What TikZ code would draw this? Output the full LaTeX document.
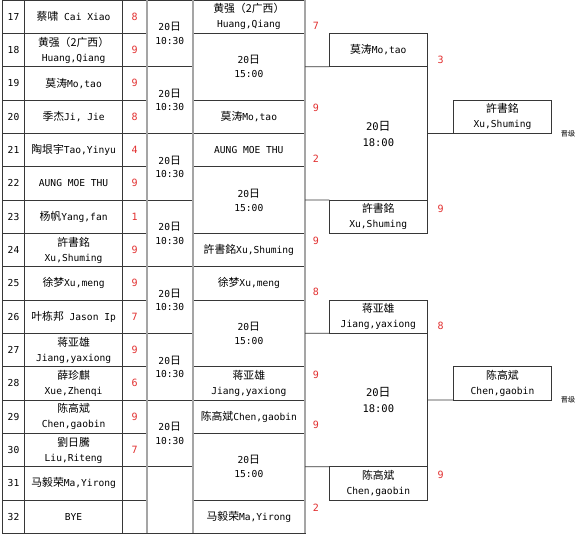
\documentclass[tikz,border=0pt]{standalone}
\usepackage{fontspec}
\setmainfont{DejaVu Sans Mono}
\newfontfamily\cjkf{Noto Sans CJK SC}[Scale=1.13]
\newcommand\zh[1]{{\cjkf #1}}
\usetikzlibrary{calc}
\definecolor{gridc}{RGB}{55,55,55}
\definecolor{thickc}{RGB}{165,165,165}
\definecolor{scorec}{RGB}{225,45,45}
\begin{document}
\begin{tikzpicture}[x=1pt,y=-1pt,
  every node/.style={font=\fontsize{9.6}{15}\selectfont, inner sep=0pt, outer sep=0pt, align=center},
  cell/.style={draw=gridc, line width=0.7pt, minimum height=33.333pt},
  numcell/.style={cell, minimum width=22pt},
  namecell/.style={cell, minimum width=98.2pt},
  scorecell/.style={cell, minimum width=24pt, text=scorec, font=\fontsize{10}{12}\selectfont},
  timecell/.style={cell, minimum width=46pt, minimum height=66.667pt, font=\fontsize{9.6}{13.5}\selectfont},
  rcell/.style={cell, minimum width=112.3pt},
  rtime/.style={cell, minimum width=112.3pt, minimum height=66.667pt, font=\fontsize{9.6}{14}\selectfont},
  box/.style={draw=gridc, line width=0.7pt, minimum width=98pt, minimum height=33.333pt},
  score/.style={text=scorec, font=\fontsize{10}{12}\selectfont},
  conn/.style={draw=gridc, line width=0.7pt},
  thickline/.style={draw=thickc, line width=1.8pt},
  bigtime/.style={font=\fontsize{10.5}{16}\selectfont},
  note/.style={font=\fontsize{6.3}{8}\selectfont}
]
\useasboundingbox (0,0) rectangle (580,538);

% left table: number, name, score
\foreach \i/\nm/\sc in {
  17/{\zh{蔡啸} Cai Xiao}/8,
  18/{\zh{黄强（2广西）}\\Huang,Qiang}/9,
  19/{\zh{莫涛}Mo,tao}/9,
  20/{\zh{季杰}Ji, Jie}/8,
  21/{\zh{陶垠宇}Tao,Yinyu}/4,
  22/{AUNG MOE THU}/9,
  23/{\zh{杨帆}Yang,fan}/1,
  24/{\zh{許書銘}\\Xu,Shuming}/9,
  25/{\zh{徐梦}Xu,meng}/9,
  26/{\zh{叶栋邦} Jason Ip}/7,
  27/{\zh{蒋亚雄}\\Jiang,yaxiong}/9,
  28/{\zh{薛珍麒}\\Xue,Zhenqi}/6,
  29/{\zh{陈高斌}\\Chen,gaobin}/9,
  30/{\zh{劉日騰}\\Liu,Riteng}/7,
  31/{\zh{马毅荣}Ma,Yirong}/{},
  32/{BYE}/{}}{
  \pgfmathsetmacro\yy{(\i-16.5)*33.3333}
  \node[numcell] (num\i) at (13.5,\yy) {\i};
  \node[namecell] (name\i) at (73.6,\yy) {\nm};
  \node[scorecell] (sc\i) at (134.7,\yy) {\sc};
}

% time column (first round)
\foreach \k/\tx in {0/{20\zh{日}\\10:30},1/{20\zh{日}\\10:30},2/{20\zh{日}\\10:30},3/{20\zh{日}\\10:30},
  4/{20\zh{日}\\10:30},5/{20\zh{日}\\10:30},6/{20\zh{日}\\10:30},7/{}}{
  \pgfmathsetmacro\yy{(2*\k+1)*33.3333}
  \node[timecell] (t\k) at (169.7,\yy) {\tx};
}

% second column
\node[rcell] (c5a) at (248.85,16.667) {\zh{黄强（2广西）}\\Huang,Qiang};
\node[rtime] (c5t1) at (248.85,66.667) {20\zh{日}\\15:00};
\node[rcell] (c5b) at (248.85,116.667) {\zh{莫涛}Mo,tao};
\node[rcell] (c5c) at (248.85,150) {AUNG MOE THU};
\node[rtime] (c5t2) at (248.85,200) {20\zh{日}\\15:00};
\node[rcell] (c5d) at (248.85,250) {\zh{許書銘}Xu,Shuming};
\node[rcell] (c5e) at (248.85,283.333) {\zh{徐梦}Xu,meng};
\node[rtime] (c5t3) at (248.85,333.333) {20\zh{日}\\15:00};
\node[rcell] (c5f) at (248.85,383.333) {\zh{蒋亚雄}\\Jiang,yaxiong};
\node[rcell] (c5g) at (248.85,416.667) {\zh{陈高斌}Chen,gaobin};
\node[rtime] (c5t4) at (248.85,466.667) {20\zh{日}\\15:00};
\node[rcell] (c5h) at (248.85,516.667) {\zh{马毅荣}Ma,Yirong};

% thick grey column borders
\draw[thickline] (sc17.north east) -- (sc32.south east);
\draw[thickline] (t0.north east) -- (t7.south east);
\draw[thickline] (c5a.north east) -- (c5h.south east);

% second-round scores
\node[score] (s5a) at (316,26) {7};
\node[score] (s5b) at (316,108) {9};
\node[score] (s5c) at (316,159) {2};
\node[score] (s5d) at (316,241) {9};
\node[score] (s5e) at (316,292) {8};
\node[score] (s5f) at (316,375) {9};
\node[score] (s5g) at (316,425) {9};
\node[score] (s5h) at (316,508) {2};

% third column
\node[box] (d1) at (378.3,50) {\zh{莫涛}Mo,tao};
\node[box] (d2) at (378.3,216.667) {\zh{許書銘}\\Xu,Shuming};
\node[box] (d3) at (378.3,316.667) {\zh{蒋亚雄}\\Jiang,yaxiong};
\node[box] (d4) at (378.3,483.333) {\zh{陈高斌}\\Chen,gaobin};
\node[bigtime] (f1) at (378.3,134) {20\zh{日}\\18:00};
\node[bigtime] (f2) at (378.3,400) {20\zh{日}\\18:00};

\node[score] (s6a) at (440.7,60) {3};
\node[score] (s6b) at (440.7,209) {9};
\node[score] (s6c) at (440.7,326) {8};
\node[score] (s6d) at (440.7,475) {9};

% final column
\node[box] (e1) at (502.5,116.667) {\zh{許書銘}\\Xu,Shuming};
\node[box] (e2) at (502.5,383.333) {\zh{陈高斌}\\Chen,gaobin};
\node[note] (q1) at (568,134) {\zh{晋级}};
\node[note] (q2) at (568,400) {\zh{晋级}};

% connectors
\draw[conn] (c5t1.east) -- (d1.south west);
\draw[conn] (c5t2.east) -- (d2.north west);
\draw[conn] (c5t3.east) -- (d3.south west);
\draw[conn] (c5t4.east) -- (d4.north west);
\draw[conn] (d1.south east) -- (d2.north east);
\draw[conn] (d3.south east) -- (d4.north east);
\coordinate (m1) at ($(d1.south east)!0.5!(d2.north east)$);
\coordinate (m2) at ($(d3.south east)!0.5!(d4.north east)$);
\draw[conn] (m1) -- (e1.south west);
\draw[conn] (m2) -- (e2.south west);
\end{tikzpicture}
\end{document}
